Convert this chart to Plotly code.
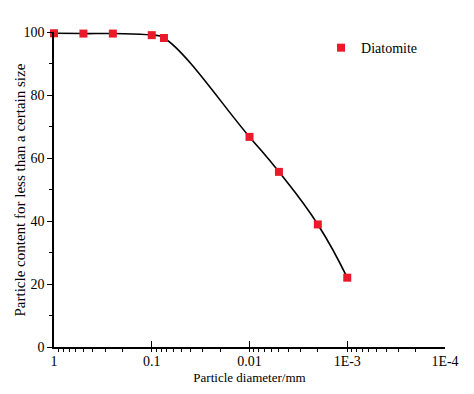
import plotly.graph_objects as go

diameter_mm = [1.0, 0.5, 0.25, 0.1, 0.075, 0.01, 0.005, 0.002, 0.001]
content_pct = [99.6, 99.5, 99.5, 99.0, 98.1, 66.7, 55.6, 38.9, 22.0]

x_tickvals = [1, 0.1, 0.01, 0.001, 0.0001]
x_ticktext = ["1", "0.1", "0.01", "1E-3", "1E-4"]
y_tickvals = [0, 20, 40, 60, 80, 100]

font_family = "Liberation Serif, Times New Roman, serif"

fig = go.Figure()
fig.add_trace(go.Scatter(
    x=diameter_mm, y=content_pct, mode="lines",
    line=dict(color="black", width=1.6, shape="spline", smoothing=1.3),
    showlegend=False, hoverinfo="skip",
))
fig.add_trace(go.Scatter(
    x=diameter_mm, y=content_pct, mode="markers", name="Diatomite",
    marker=dict(symbol="square", size=8, color="#ea1a2a"),
    cliponaxis=False,
))

# page body has an 8px margin, so the margins are shifted to compensate
fig.update_layout(
    width=474, height=394,
    margin=dict(l=46, r=37, t=24, b=55),
    paper_bgcolor="white", plot_bgcolor="white",
    font=dict(family=font_family, color="black", size=13),
    showlegend=True,
    legend=dict(x=0.683, y=0.949, xanchor="left", yanchor="middle",
                bgcolor="rgba(0,0,0,0)", font=dict(size=14, family=font_family),
                itemwidth=30),
    xaxis=dict(
        type="log", range=[0, -4], autorange=False, automargin=False,
        tickvals=x_tickvals, ticktext=x_ticktext,
        ticks="inside", ticklen=6, tickwidth=1.3, tickcolor="black",
        showline=True, linecolor="black", linewidth=1.5,
        showgrid=False, zeroline=False, mirror=False,
        tickfont=dict(size=14),
        minor=dict(ticks="outside", ticklen=3, tickwidth=1, tickcolor="black",
                   dtick="D1", showgrid=False),
        title=dict(text="Particle diameter/mm", font=dict(size=13), standoff=5),
    ),
    yaxis=dict(
        range=[0, 100], autorange=False, automargin=False,
        tickvals=y_tickvals,
        ticks="outside", ticklen=5, tickwidth=1.3, tickcolor="black",
        showline=True, linecolor="black", linewidth=1.5,
        showgrid=False, zeroline=False, mirror=False,
        tickfont=dict(size=14),
        minor=dict(ticks="outside", ticklen=3, tickwidth=1, tickcolor="black",
                   tickvals=[10, 30, 50, 70, 90], showgrid=False),
    ),
    annotations=[dict(
        text="Particle content for less than a certain size",
        xref="paper", yref="paper", x=-0.087, y=0.5,
        xanchor="center", yanchor="middle", textangle=-90,
        showarrow=False, font=dict(size=15, family=font_family),
    )],
)

fig.write_html("out.html")
